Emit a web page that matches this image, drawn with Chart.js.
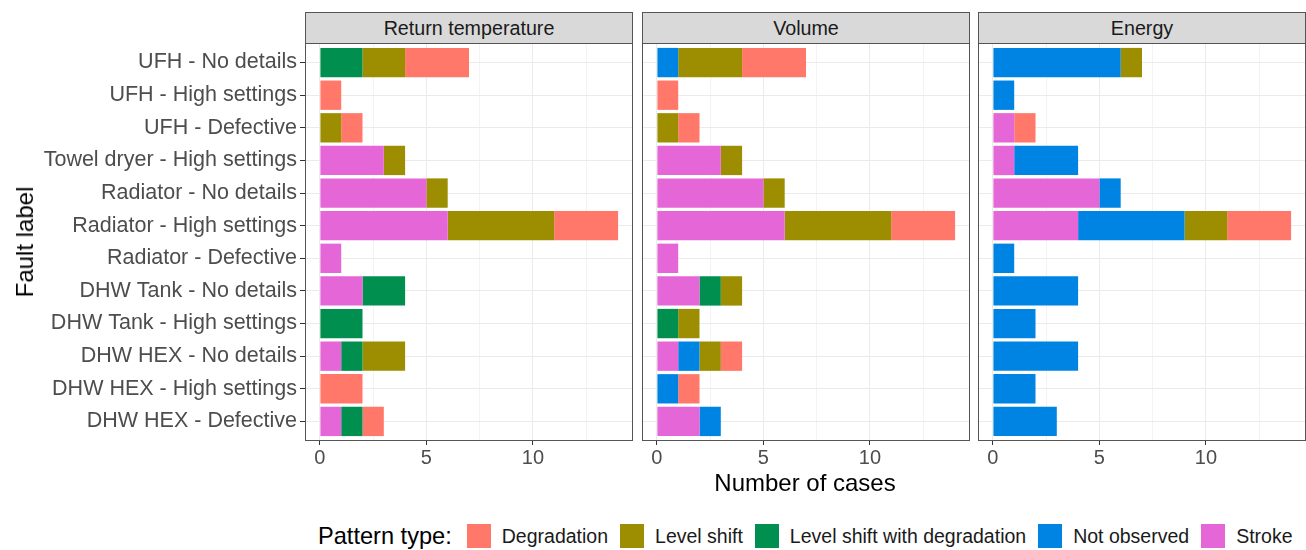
<!DOCTYPE html>
<html>
<head>
<meta charset="utf-8">
<script src="https://cdn.jsdelivr.net/npm/chart.js@4.4.0/dist/chart.umd.min.js"></script>
<style>
body { margin: 0; background: #fff; font-family: 'Liberation Sans', Arial, sans-serif; }
#wrap { position: relative; width: 1306px; height: 550px; overflow: hidden; background: #fff; }
.panel { position: absolute; top: 43px; }
.strip { position: absolute; top: 12px; height: 32px; box-sizing: border-box; background: #d9d9d9;
  border: 1px solid #555; color: #1a1a1a; font-size: 19.7px; text-align: center; line-height: 30px; }
#ytitle { position: absolute; left: 25px; top: 242px; transform: translate(-50%, -50%) rotate(-90deg);
  font-size: 24px; color: #000; white-space: nowrap; }
#xtitle { position: absolute; left: 805px; top: 483px; transform: translate(-50%, -50%);
  font-size: 24px; color: #000; white-space: nowrap; }
#legend { position: absolute; left: 318px; top: 524px; height: 24px; display: flex; align-items: center; white-space: nowrap; }
#legend .title { font-size: 23.6px; color: #000; margin-right: 15px; }
#legend .key { width: 24px; height: 24px; margin-right: 11px; }
#legend .lab { font-size: 19.5px; color: #1a1a1a; margin-right: 12px; }
</style>
</head>
<body>
<div id="wrap">
  <div class="strip" style="left:305px;width:328px">Return temperature</div>
  <div class="strip" style="left:642px;width:328px">Volume</div>
  <div class="strip" style="left:978px;width:328px">Energy</div>
  <div class="panel" style="left:0px"><canvas id="c1" width="633" height="428"></canvas></div>
  <div class="panel" style="left:642px"><canvas id="c2" width="328" height="428"></canvas></div>
  <div class="panel" style="left:978px"><canvas id="c3" width="328" height="428"></canvas></div>
  <div id="ytitle">Fault label</div>
  <div id="xtitle">Number of cases</div>
  <div id="legend"></div>
</div>
<script>
const categories = [
    'UFH - No details', 'UFH - High settings', 'UFH - Defective',
    'Towel dryer - High settings', 'Radiator - No details', 'Radiator - High settings',
    'Radiator - Defective', 'DHW Tank - No details', 'DHW Tank - High settings',
    'DHW HEX - No details', 'DHW HEX - High settings', 'DHW HEX - Defective'
];
// stacking order, left to right
const patterns = ['Stroke', 'Not observed', 'Level shift with degradation', 'Level shift', 'Degradation'];
const patternColors = ['#e566d6', '#0084e4', '#008f4f', '#9c8e00', '#ff786a'];
const legendOrder = ['Degradation', 'Level shift', 'Level shift with degradation', 'Not observed', 'Stroke'];
const xTicks = [0, 2.5, 5, 7.5, 10, 12.5];

// Return temperature
const returnStroke      = [0, 0, 0, 3, 5, 6, 1, 2, 0, 1, 0, 1];
const returnNotObserved = [0, 0, 0, 0, 0, 0, 0, 0, 0, 0, 0, 0];
const returnShiftDeg    = [2, 0, 0, 0, 0, 0, 0, 2, 2, 1, 0, 1];
const returnShift       = [2, 0, 1, 1, 1, 5, 0, 0, 0, 2, 0, 0];
const returnDegradation = [3, 1, 1, 0, 0, 3, 0, 0, 0, 0, 2, 1];

// Volume
const volumeStroke      = [0, 0, 0, 3, 5, 6, 1, 2, 0, 1, 0, 2];
const volumeNotObserved = [1, 0, 0, 0, 0, 0, 0, 0, 0, 1, 1, 1];
const volumeShiftDeg    = [0, 0, 0, 0, 0, 0, 0, 1, 1, 0, 0, 0];
const volumeShift       = [3, 0, 1, 1, 1, 5, 0, 1, 1, 1, 0, 0];
const volumeDegradation = [3, 1, 1, 0, 0, 3, 0, 0, 0, 1, 1, 0];

// Energy
const energyStroke      = [0, 0, 1, 1, 5, 4, 0, 0, 0, 0, 0, 0];
const energyNotObserved = [6, 1, 0, 3, 1, 5, 1, 4, 2, 4, 2, 3];
const energyShiftDeg    = [0, 0, 0, 0, 0, 0, 0, 0, 0, 0, 0, 0];
const energyShift       = [1, 0, 0, 0, 0, 2, 0, 0, 0, 0, 0, 0];
const energyDegradation = [0, 0, 1, 0, 0, 3, 0, 0, 0, 0, 0, 0];

Chart.defaults.font.family = "'Liberation Sans', Arial, sans-serif";

const panelBorder = {
    id: 'panelBorder',
    afterDraw(chart) {
        const a = chart.chartArea;
        const ctx = chart.ctx;
        ctx.save();
        ctx.strokeStyle = '#555';
        ctx.lineWidth = 1;
        ctx.strokeRect(a.left + 0.5, a.top + 0.5, a.right - a.left - 1, a.bottom - a.top - 1);
        ctx.restore();
    }
};

function makePanel(id, series, showLabels) {
    const datasets = series.map((values, k) => ({
        label: patterns[k],
        data: values.map((v, i) => ({ x: v, y: i })),
        backgroundColor: patternColors[k],
        borderWidth: 0,
        categoryPercentage: 1,
        barPercentage: 0.9
    }));
    return new Chart(document.getElementById(id), {
        type: 'bar',
        data: { datasets: datasets },
        plugins: [panelBorder],
        options: {
            indexAxis: 'y',
            responsive: false,
            animation: false,
            layout: { padding: 0 },
            plugins: { legend: { display: false }, tooltip: { enabled: false } },
            scales: {
                x: {
                    type: 'linear',
                    stacked: true,
                    min: -0.7,
                    max: 14.7,
                    afterBuildTicks: s => { s.ticks = xTicks.map(v => ({ value: v })); },
                    afterFit: s => { s.height = 30; s.paddingLeft = 0; s.paddingRight = 0; },
                    border: { display: false },
                    grid: {
                        color: c => (c.tick && c.tick.value % 5 === 0) ? '#ebebeb' : '#f3f3f3',
                        lineWidth: 1,
                        tickLength: 4,
                        tickColor: c => (c.tick && c.tick.value % 5 === 0) ? '#333' : 'rgba(0,0,0,0)'
                    },
                    ticks: {
                        autoSkip: false,
                        maxRotation: 0,
                        padding: 1,
                        color: '#4d4d4d',
                        font: { size: 20 },
                        callback: v => (v % 5 === 0 ? String(v) : '')
                    }
                },
                y: {
                    type: 'linear',
                    stacked: true,
                    reverse: true,
                    offset: false,
                    min: -0.6,
                    max: 11.6,
                    afterBuildTicks: s => { s.ticks = categories.map((c, i) => ({ value: i })); },
                    afterFit: s => { s.width = showLabels ? 305 : 0; s.paddingTop = 0; s.paddingBottom = 0; },
                    border: { display: false },
                    grid: {
                        offset: false,
                        color: '#ebebeb',
                        lineWidth: 1,
                        drawTicks: showLabels,
                        tickLength: 5,
                        tickColor: '#333'
                    },
                    ticks: {
                        display: showLabels,
                        autoSkip: false,
                        padding: 3,
                        color: '#4d4d4d',
                        font: { size: 21.5 },
                        callback: v => categories[v]
                    }
                }
            }
        }
    });
}

makePanel('c1', [returnStroke, returnNotObserved, returnShiftDeg, returnShift, returnDegradation], true);
makePanel('c2', [volumeStroke, volumeNotObserved, volumeShiftDeg, volumeShift, volumeDegradation], false);
makePanel('c3', [energyStroke, energyNotObserved, energyShiftDeg, energyShift, energyDegradation], false);

const legend = document.getElementById('legend');
legend.innerHTML = '<span class="title">Pattern type:</span>';
legendOrder.forEach(name => {
    const key = document.createElement('span');
    key.className = 'key';
    key.style.background = patternColors[patterns.indexOf(name)];
    const lab = document.createElement('span');
    lab.className = 'lab';
    lab.textContent = name;
    legend.appendChild(key);
    legend.appendChild(lab);
});
</script>
</body>
</html>
